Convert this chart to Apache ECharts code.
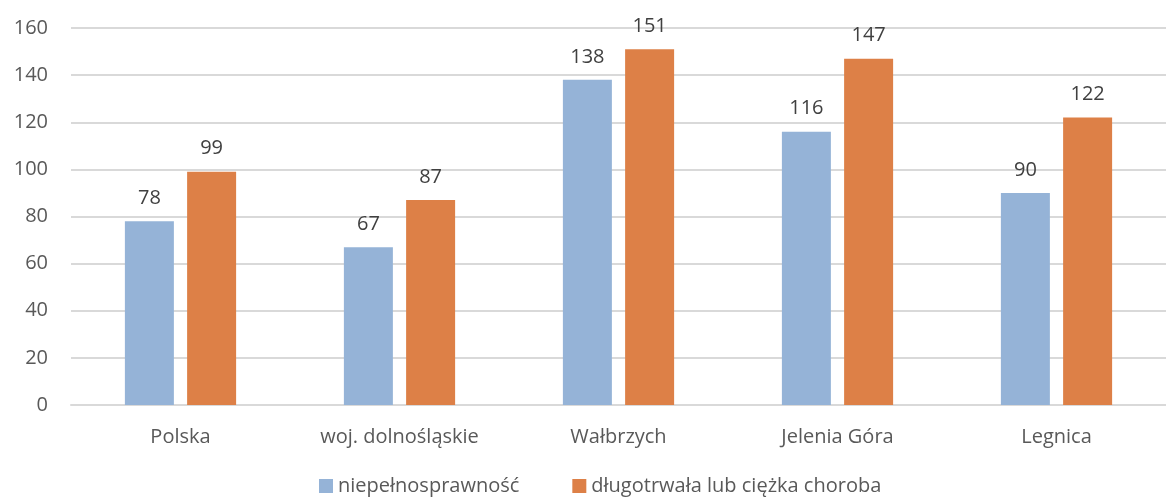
<!DOCTYPE html>
<html>
<head>
<meta charset="utf-8">
<script src="https://cdn.jsdelivr.net/npm/echarts@6/dist/echarts.min.js"></script>
<style>
  html, body { margin: 0; padding: 0; background: #fff; }
  #chart { width: 1166px; height: 499px; }
</style>
</head>
<body>
<div id="chart"></div>
<script>
const categories = ['Polska', 'woj. dolnośląskie', 'Wałbrzych', 'Jelenia Góra', 'Legnica']
const niepelnosprawnosc = [78, 67, 138, 116, 90]
const choroba = [99, 87, 151, 147, 122]
const seriesNames = ['niepełnosprawność', 'długotrwała lub ciężka choroba']

const font = '"Open Sans", "Noto Sans", sans-serif'
const textColor = '#595959'

const myChart = echarts.init(document.getElementById('chart'))
const option = {
  animation: false,
  textStyle: { fontFamily: font },
  grid: {
    left: 71,
    right: 0,
    top: 28,
    bottom: 94
  },
  legend: {
    bottom: -2,
    left: 314,
    itemWidth: 14,
    itemHeight: 14,
    itemGap: 53,
    icon: 'rect',
    textStyle: { color: textColor, fontSize: 20, fontFamily: font },
    data: seriesNames
  },
  xAxis: {
    type: 'category',
    data: categories,
    axisTick: { show: false },
    axisLine: { show: true, lineStyle: { color: '#d9d9d9', width: 2 } },
    axisLabel: { color: textColor, fontSize: 20, margin: 22 }
  },
  yAxis: {
    type: 'value',
    min: 0,
    max: 160,
    interval: 20,
    axisLine: { show: false },
    axisTick: { show: false },
    axisLabel: { color: textColor, fontSize: 20, margin: 23 },
    splitLine: { lineStyle: { color: '#d9d9d9', width: 2 } }
  },
  series: [
    {
      name: seriesNames[0],
      type: 'bar',
      data: niepelnosprawnosc,
      barWidth: 49,
      barGap: '27%',
      itemStyle: { color: '#95b3d7' },
      label: { show: true, position: 'top', distance: 13, color: '#404040', fontSize: 20 }
    },
    {
      name: seriesNames[1],
      type: 'bar',
      data: choroba,
      barWidth: 49,
      barGap: '27%',
      itemStyle: { color: '#dd8047' },
      label: { show: true, position: 'top', distance: 13, color: '#404040', fontSize: 20 }
    }
  ]
}
myChart.setOption(option)
</script>
</body>
</html>
